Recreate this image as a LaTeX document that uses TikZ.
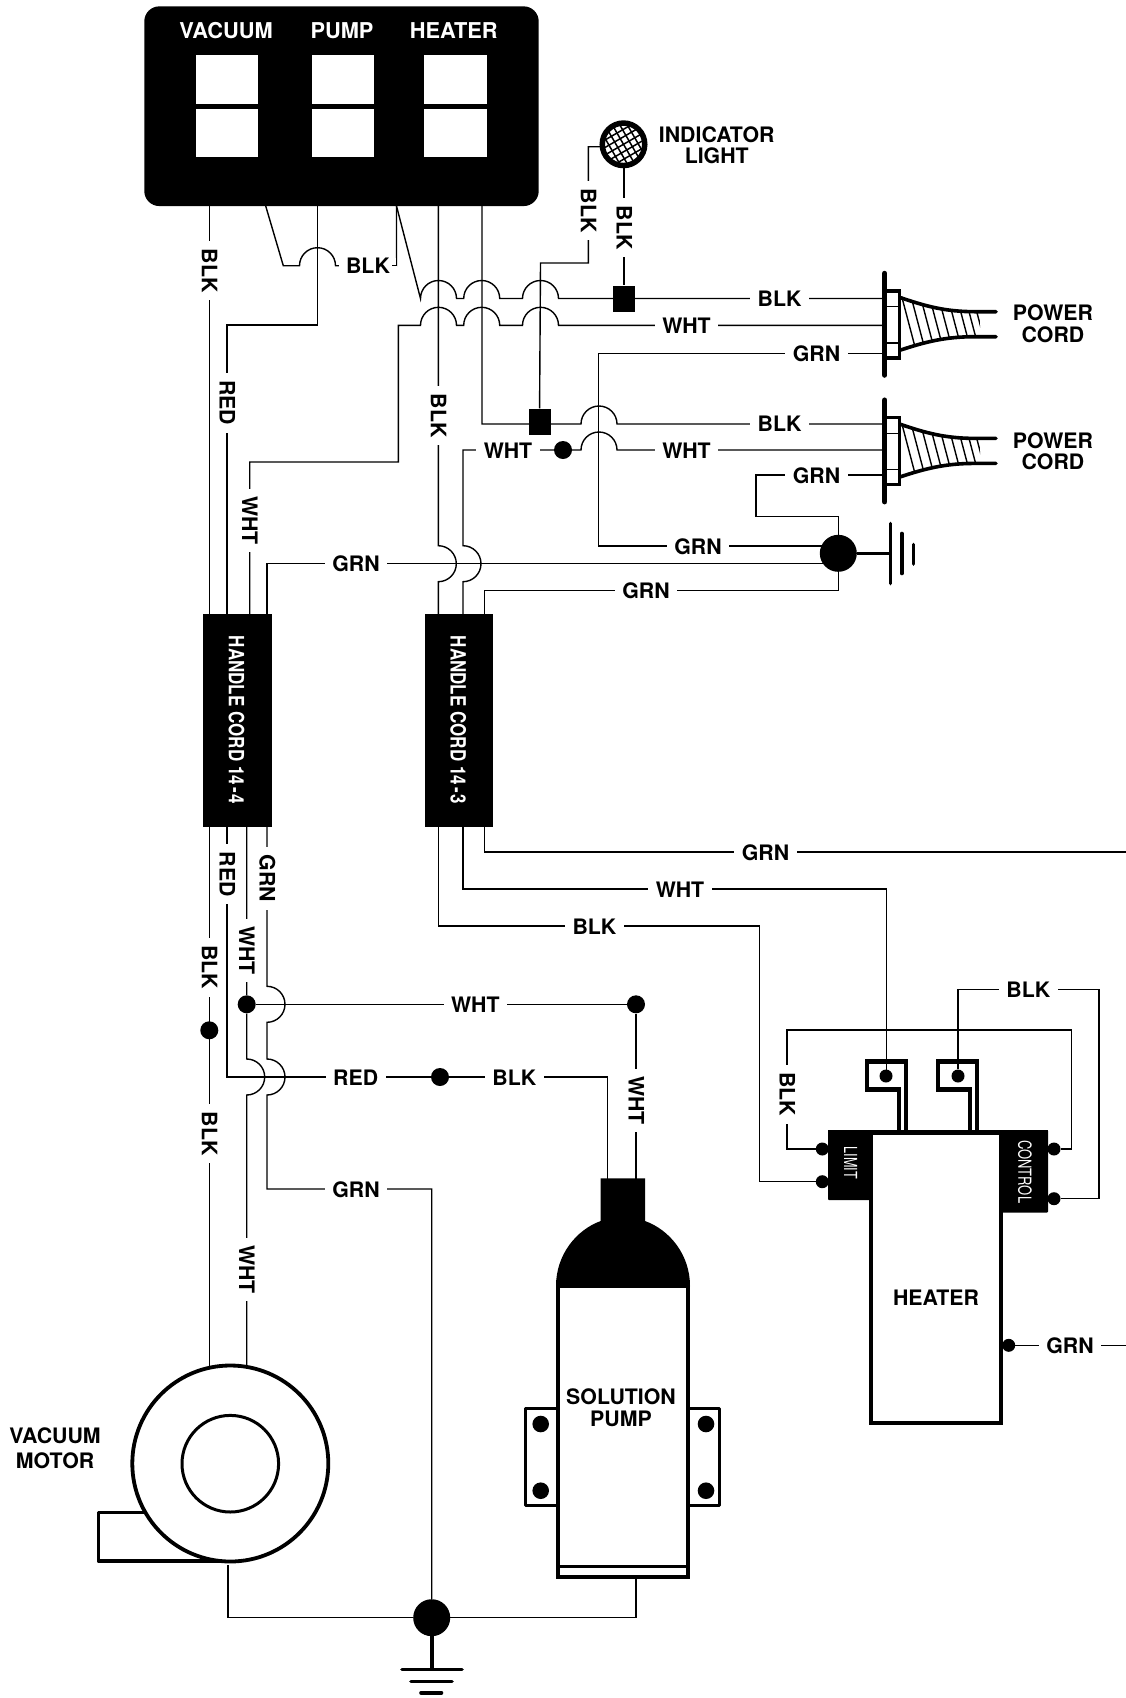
\documentclass[tikz,border=0pt]{standalone}
\usepackage{fontspec}
\usepackage{graphicx}
\setmainfont{TeX Gyre Heros}
% hop of a horizontal wire, upwards, centre (#1,#2), radius #3
\newcommand\hopU[3]{ -- (#1-#3,#2) .. controls (#1-#3,#2-0.5523*#3) and (#1-0.5523*#3,#2-#3) .. (#1,#2-#3) .. controls (#1+0.5523*#3,#2-#3) and (#1+#3,#2-0.5523*#3) .. (#1+#3,#2) }
% same, walked from right to left
\newcommand\hopL[3]{ -- (#1+#3,#2) .. controls (#1+#3,#2-0.5523*#3) and (#1+0.5523*#3,#2-#3) .. (#1,#2-#3) .. controls (#1-0.5523*#3,#2-#3) and (#1-#3,#2-0.5523*#3) .. (#1-#3,#2) }
% hop of a vertical wire, to the right, walked downwards
\newcommand\hopR[3]{ -- (#1,#2-#3) .. controls (#1+0.5523*#3,#2-#3) and (#1+#3,#2-0.5523*#3) .. (#1+#3,#2) .. controls (#1+#3,#2+0.5523*#3) and (#1+0.5523*#3,#2+#3) .. (#1,#2+#3) }
\tikzset{
  wire/.style={line width=1.4pt,line join=miter},
  lab/.style={fill=white,font=\fontsize{21.3}{22}\selectfont\bfseries,inner xsep=7.5pt,inner ysep=1pt,text height=15pt,text depth=0pt,anchor=center,yshift=-.6pt},
  labv/.style={lab,rotate=-90,xshift=2pt},
  captxt/.style={font=\fontsize{21.3}{22}\selectfont\bfseries,inner sep=0pt,align=center},
  dot/.style={circle,fill=black,draw=none,inner sep=0pt,minimum size=18pt},
  sdot/.style={circle,fill=black,draw=none,inner sep=0pt,minimum size=13pt},
  bigdot/.style={circle,fill=black,draw=none,inner sep=0pt,minimum size=37pt},
  sq/.style={rectangle,fill=black,draw=none,inner sep=0pt,minimum width=22pt,minimum height=26pt},
  blockb/.style={rectangle,fill=black,draw=none,inner sep=0pt,minimum width=68.4pt,minimum height=212.4pt},
  swlab/.style={text=white,font=\fontsize{21.8}{22}\selectfont\bfseries,inner sep=0pt},
  hlab/.style={text=white,font=\fontsize{21}{22}\selectfont\bfseries,inner sep=0pt,rotate=-90},
  vlab/.style={text=white,font=\fontsize{18}{20}\selectfont,inner sep=0pt,rotate=-90},
  barline/.style={line width=5.5pt,line cap=round},
  gnd/.style={line width=3.6pt,line cap=round}
}
\begin{document}
\begin{tikzpicture}[x=1pt,y=-1pt]
\useasboundingbox (0,0) rectangle (1126,1698);
\fill[white] (0,0) rectangle (1126,1698);

% ---------- control panel
\node[rectangle,rounded corners=15pt,fill=black,inner sep=0pt,minimum width=394.4pt,minimum height=199.7pt] (panel) at (341.5,106.2) {};
\foreach \xa/\xb in {196.3/258,311.7/373.7,424.3/486.7}{
  \fill[white] (\xa,55) rectangle (\xb,104.3);
  \fill[white] (\xa,108.7) rectangle (\xb,156.7);
}
\node[swlab] (lv) at (226,30.5) {VACUUM};
\node[swlab] (lp) at (342,30.5) {PUMP};
\node[swlab] (lh) at (453.7,30.5) {HEATER};

% ---------- named equipment
\node[blockb] (hc1) at (237.5,720.5) {};
\node[blockb] (hc2) at (459.2,720.5) {};
\node[hlab] (hc1t) at (236.5,720) {\scalebox{.81}[1]{HANDLE CORD 14\kern2.5pt-\kern2.5pt4}};
\node[hlab] (hc2t) at (458.2,720) {\scalebox{.81}[1]{HANDLE CORD 14\kern2.5pt-\kern2.5pt3}};
\node[sq] (j1) at (624,298.5) {};
\node[sq] (j2) at (539.5,421.5) {};
\node[dot] (d1) at (563,450) {};
\node[dot] (d2) at (209.3,1030.3) {};
\node[dot] (d3) at (246.7,1004.3) {};
\node[dot] (d4) at (636,1004.3) {};
\node[dot] (d5) at (440,1077) {};
\node[bigdot] (g1) at (838.3,553.3) {};
\node[bigdot] (g2) at (431.7,1617.7) {};

% coordinates at the free ends of wires
\coordinate (pa) at (209.3,206);
\coordinate (pb) at (265.7,206);
\coordinate (pc) at (317.7,206);
\coordinate (pd) at (396.5,206);
\coordinate (pe) at (438.3,206);
\coordinate (pf) at (482,206);
\coordinate (c1b) at (885,298.5);
\coordinate (c1w) at (885,325.3);
\coordinate (c1g) at (885,353.7);
\coordinate (c2b) at (885,424);
\coordinate (c2w) at (885,450);
\coordinate (c2g) at (885,475);
\coordinate (g1a) at (825,546);
\coordinate (g1b) at (825,563.7);
\coordinate (mb) at (209.3,1366);
\coordinate (mw) at (246.7,1366);
\coordinate (mg) at (228,1565);
\coordinate (pmb) at (607.3,1179);
\coordinate (pmw) at (636,1179);
\coordinate (pmg) at (636,1578);
\coordinate (eR) at (1126,852);
\coordinate (eR2) at (1126,1345.3);

% ---------- wires: upper part
\draw[wire] (pa) -- (209.3,614.3);
\draw[wire] (pb) -- (283.3,265.7) \hopU{317.5}{265.7}{18} -- (396.5,265.7) -- (pd);
\draw[wire] (pc) -- (317.7,325) -- (227,325) -- (227,614.3);
\draw[wire] (pd) -- (420.5,298.5) \hopU{438.5}{298.5}{18} \hopU{481.7}{298.5}{18} \hopU{540.5}{298.5}{18} -- (c1b);
\draw[wire] (249.7,614.3) -- (249.7,462) -- (398.3,462) -- (398.3,325.3) \hopU{438.5}{325.3}{18} \hopU{481.7}{325.3}{18} \hopU{540.5}{325.3}{18} -- (c1w);
\draw[wire] (pe) \hopR{438.3}{563.7}{18} -- (438.3,614.3);
\draw[wire] (pf) -- (482,424) \hopU{599}{424}{18} -- (c2b);
\draw[wire] (j2) -- (540.5,263) -- (588.3,263) -- (588.3,146.7) -- (601,146.7);
\draw[wire] (624,168) -- (j1);
\draw[wire] (c1g) -- (598.7,353.7) -- (598.7,546) -- (g1a);
\draw[wire] (c2w) \hopL{599}{450}{18} -- (d1) -- (463,450) \hopR{463}{563.7}{18} -- (463,614.3);
\draw[wire] (c2g) -- (756,475) -- (756,516.7) -- (838.3,516.7) -- (g1);
\draw[wire] (267,614.3) -- (267,563.7) -- (g1b);
\draw[wire] (g1) -- (838.3,590.7) -- (484.7,590.7) -- (484.7,614.3);

% ---------- wires: below the handle cords
\draw[wire] (438.3,826.7) -- (438.3,926) -- (759.5,926) -- (759.5,1181.7) -- (822.3,1181.7);
\draw[wire] (463,826.7) -- (463,889) -- (886.3,889) -- (886.3,1076);
\draw[wire] (484.7,826.7) -- (484.7,852) -- (eR);
\draw[wire] (209.3,826.7) -- (mb);
\draw[wire] (227,826.7) -- (227,1077) -- (d5) -- (607.3,1077) -- (pmb);
\draw[wire] (246.7,826.7) -- (d3) \hopR{246.7}{1077}{18} -- (mw);
\draw[wire] (267,826.7) \hopR{267}{1004.3}{18} \hopR{267}{1077}{18} -- (267,1189) -- (431.7,1189) -- (g2);
\draw[wire] (d3) -- (d4) -- (pmw);
\draw[wire] (mg) -- (228,1617.7) -- (g2) -- (636,1617.7) -- (pmg);

% ---------- labels on wires
\node[labv] (l1) at (209.3,268) {BLK};
\node[lab] (l2) at (368,265.7) {BLK};
\draw[wire] (392,265.7) -- (396.5,265.7) -- (396.5,250);
\node[labv] (l3) at (227,400) {RED};
\node[labv] (l4) at (249.7,518) {WHT};
\node[labv] (l5) at (438.3,413) {BLK};
\node[labv] (l6) at (588.3,208) {BLK};
\node[labv] (l7) at (624,225) {BLK};
\node[lab] (l8) at (779.5,298.5) {BLK};
\node[lab] (l9) at (686.5,325.3) {WHT};
\node[lab] (l10) at (816.5,353.7) {GRN};
\node[lab] (l11) at (779.5,423.5) {BLK};
\node[lab] (l12) at (686.5,450) {WHT};
\node[lab] (l13) at (508,450) {WHT};
\node[lab] (l14) at (816.5,475) {GRN};
\node[lab] (l15) at (698,546) {GRN};
\node[lab] (l16) at (356,563.7) {GRN};
\node[lab] (l17) at (646,590.7) {GRN};
\node[lab] (l18) at (765.5,852) {GRN};
\node[lab] (l19) at (680,889) {WHT};
\node[lab] (l20) at (594.4,926) {BLK};
\node[labv] (l21) at (209.3,964.5) {BLK};
\node[labv] (l22) at (227,871.5) {RED};
\node[labv] (l23) at (246.7,948) {WHT};
\node[labv] (l24) at (267,876) {GRN};
\node[labv] (l25) at (209.3,1131) {BLK};
\node[labv] (l26) at (246.7,1266.7) {WHT};
\node[lab] (l27) at (475.3,1004.3) {WHT};
\node[lab] (l28) at (355.7,1077) {RED};
\node[lab] (l29) at (514.3,1077) {BLK};
\node[labv] (l30) at (636,1098) {WHT};
\node[lab] (l31) at (356,1189) {GRN};

% ---------- indicator light
\begin{scope}
  \clip (623.5,144.3) circle[radius=21];
  \begin{scope}[shift={(623.5,144.3)},rotate=30]
    \foreach \k in {-26,-19.5,...,26}{
      \draw[line width=1.5pt] (\k,-30) -- (\k,30);
      \draw[line width=1.5pt] (-30,\k) -- (30,\k);
    }
  \end{scope}
\end{scope}
\node[circle,draw=black,line width=5.5pt,inner sep=0pt,minimum size=42.5pt] (lamp) at (623.5,144.3) {};
\node[captxt] (lamptxt) at (716.7,145) {INDICATOR\\[-1pt]LIGHT};

% ---------- power cords
\foreach \o in {0,126.7}{
  \begin{scope}[yshift=-\o pt]
    \begin{scope}
      \clip (900.7,297.7) .. controls (925,306) and (945,311.7) .. (975,311.7) -- (980,311.7) -- (980,336.7) -- (975,336.7) .. controls (945,336.7) and (925,342) .. (900.7,350) -- cycle;
      \foreach \x in {900,909.3,918.7,927.7,936.7,946,955,963.3,971}{
        \draw[line width=1.4pt] (\x,290) -- (\x+14.5,345);
      }
    \end{scope}
    \draw[line width=3.6pt,line cap=round] (900.7,297.7) .. controls (925,306) and (945,311.7) .. (975,311.7) -- (996,311.7);
    \draw[line width=3.6pt,line cap=round] (900.7,350) .. controls (925,342) and (945,336.7) .. (975,336.7) -- (996,336.7);
    \draw[line width=3.2pt,line join=miter] (884.7,291) rectangle (899.7,358);
    \draw[line width=1.4pt] (885,306.7) -- (899.7,306.7) (885,343) -- (899.7,343);
    \draw[barline] (884.7,273.5) -- (884.7,375);
  \end{scope}
}
\node[captxt] (pc1) at (1053,323.5) {POWER\\CORD};
\node[captxt] (pc2) at (1053,451.5) {POWER\\[-1pt]CORD};

% ---------- grounds
\draw[line width=3.6pt] (g1) -- (890.3,553.3);
\draw[gnd] (890.3,523.5) -- (890.3,583.5);
\draw[gnd] (901.7,533.5) -- (901.7,573.5);
\draw[gnd] (913.3,544.5) -- (913.3,564);
\draw[line width=3.6pt] (g2) -- (431.7,1669.3);
\draw[gnd] (402,1669.3) -- (462,1669.3);
\draw[gnd] (411,1681.3) -- (452,1681.3);
\draw[gnd] (421,1692.7) -- (441.5,1692.7);

% ---------- vacuum motor
\draw[line width=3.4pt,line join=round] (150,1512.3) -- (98.3,1512.3) -- (98.3,1561) -- (235,1561);
\node[circle,draw=black,fill=white,line width=3.8pt,inner sep=0pt,minimum size=196pt] (motor) at (230.3,1463.5) {};
\node[circle,draw=black,line width=3pt,inner sep=0pt,minimum size=96.6pt] (motorin) at (230.3,1463.7) {};
\node[captxt] (mtxt) at (55,1448.5) {VACUUM\\[3pt]MOTOR};

% ---------- solution pump
\fill[black] (556,1286) .. controls (556,1255) and (576,1230) .. (600.7,1221) -- (600.7,1178.3) -- (645,1178.3) -- (645,1221) .. controls (670,1230) and (690,1255) .. (690,1286) -- cycle;
\draw[line width=3.2pt,line join=round] (525.5,1408.5) rectangle (558,1505.5);
\draw[line width=3.2pt,line join=round] (688,1408.5) rectangle (719.5,1505.5);
\node[rectangle,draw=black,fill=white,line width=3.6pt,inner sep=0pt,minimum width=130pt,minimum height=291pt] (pump) at (623,1431.5) {};
\draw[line width=3.4pt] (557,1566.7) -- (689,1566.7);
\node[captxt] (ptxt) at (621,1407.3) {SOLUTION\\PUMP};
\foreach \p in {(540.7,1424),(540.7,1490.7),(706,1424),(706,1490.7)}{
  \fill \p circle[radius=8.3];
}

% ---------- heater
\draw[line width=4.3pt,line join=miter] (898.7,1132) -- (898.7,1089.5) -- (867,1089.5) -- (867,1061.5) -- (906.2,1061.5) -- (906.2,1132);
\draw[line width=4.3pt,line join=miter] (969.7,1132) -- (969.7,1089.5) -- (938,1089.5) -- (938,1061.5) -- (977.2,1061.5) -- (977.2,1132);
\fill[rounded corners=1pt] (828,1130) rectangle (873.3,1200);
\fill[rounded corners=1pt] (999,1130) rectangle (1048,1212.7);
\fill (828,1130) rectangle (1048,1134.7);
\node[rectangle,draw=black,fill=white,line width=4pt,inner sep=0pt,minimum width=130.6pt,minimum height=290.6pt] (heater) at (936,1278) {};
\fill (868.7,1130) rectangle (1003.3,1134.7);
\node[captxt] (htxt) at (936,1297.8) {HEATER};
\node[vlab] (limit) at (850.7,1162.7) {\scalebox{.7}[1]{LIMIT}};
\node[vlab] (control) at (1025,1171.7) {\scalebox{.72}[1]{CONTROL}};
\node[sdot] (t1) at (822.3,1149) {};
\node[sdot] (t2) at (822.3,1181.7) {};
\node[sdot] (t3) at (1054,1149) {};
\node[sdot] (t4) at (1054,1198.7) {};
\node[sdot] (t5) at (1008.7,1345.3) {};
\node[sdot] (t6) at (886,1076) {};
\node[sdot] (t7) at (958,1076) {};
\draw[wire] (t7) -- (958,989.3) -- (1099,989.3) -- (1099,1198.7) -- (t4);
\draw[wire] (t1) -- (787,1149) -- (787,1030) -- (1071.3,1030) -- (1071.3,1149) -- (t3);
\draw[wire] (t5) -- (eR2);
\node[lab] (l32) at (1028.3,989.3) {BLK};
\node[labv] (l33) at (787,1091.7) {BLK};
\node[lab] (l34) at (1070,1345.3) {GRN};
\end{tikzpicture}
\end{document}
